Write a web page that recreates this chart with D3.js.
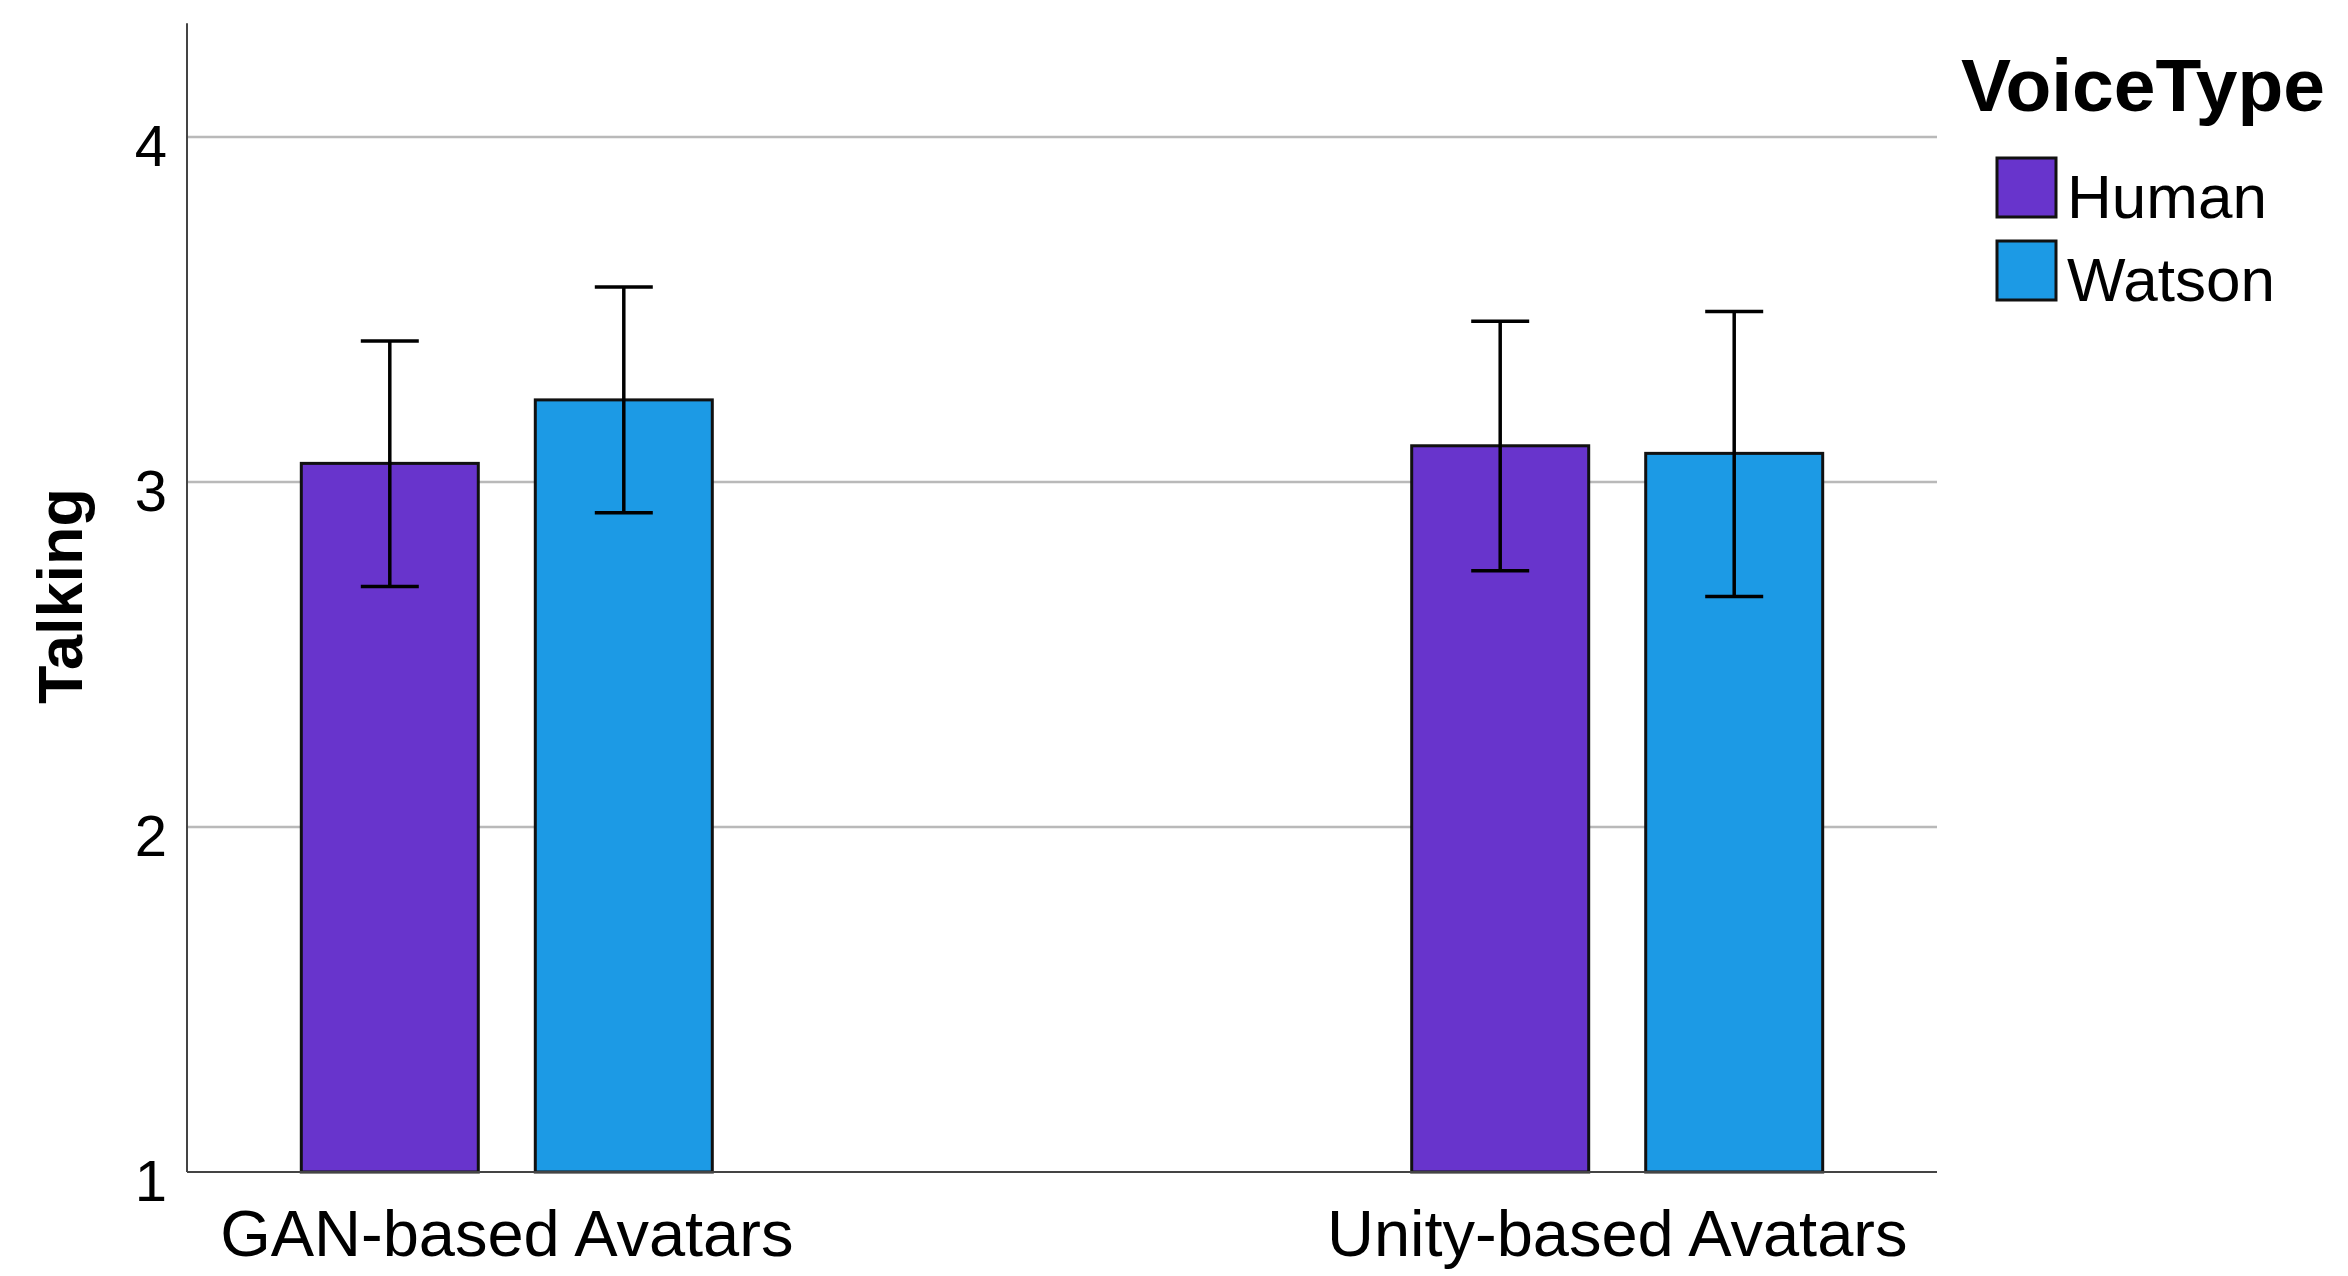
<!DOCTYPE html>
<html>
<head>
<meta charset="utf-8">
<script src="https://cdn.jsdelivr.net/npm/d3@7"></script>
<style>
  body { margin: 0; background: #fff; }
  text { font-family: "Liberation Sans", Arial, sans-serif; }
</style>
</head>
<body>
<div id="chart"></div>
<script>
// data
var categories = ["GAN-based Avatars", "Unity-based Avatars"];
var voiceTypes = ["Human", "Watson"];
var means = {
  Human: [3.054, 3.105],
  Watson: [3.238, 3.083]
};
var errLow = {
  Human: [2.697, 2.743],
  Watson: [2.911, 2.668]
};
var errHigh = {
  Human: [3.409, 3.466],
  Watson: [3.565, 3.494]
};
var yTicks = [1, 2, 3, 4];
var colors = ["#6834cc", "#1c9ae5"];

var width = 2348;
var height = 1276;

var svg = d3
  .select("#chart")
  .append("svg")
  .attr("width", width)
  .attr("height", height);

var left = 187;
var right = 1937;

var yScale = d3.scaleLinear().domain([1, 4]).range([1172, 137]);

var xScale = d3
  .scalePoint()
  .domain(categories)
  .range([left, right])
  .padding(0.288);

var x1 = d3
  .scaleBand()
  .domain(voiceTypes)
  .range([-205.5, 205.5])
  .paddingInner(0.2436);

var color = d3.scaleOrdinal().domain(voiceTypes).range(colors);

// gridlines
svg
  .append("g")
  .selectAll("line")
  .data(yTicks.slice(1))
  .enter()
  .append("line")
  .attr("x1", left)
  .attr("x2", right)
  .attr("y1", function(d) { return yScale(d); })
  .attr("y2", function(d) { return yScale(d); })
  .attr("stroke", "#b9b9b9")
  .attr("stroke-width", 2.5);

// y axis
var yAxis = d3
  .axisLeft(yScale)
  .tickValues(yTicks)
  .tickFormat(d3.format("d"))
  .tickSize(0)
  .tickPadding(20);
var yG = svg
  .append("g")
  .attr("transform", "translate(" + left + ",0)")
  .call(yAxis);
yG.select(".domain").remove();
yG.selectAll("text")
  .attr("dy", null)
  .attr("y", 28)
  .attr("font-size", 58)
  .attr("font-family", "Liberation Sans, Arial, sans-serif")
  .attr("fill", "#000");

svg
  .append("line")
  .attr("x1", left)
  .attr("x2", left)
  .attr("y1", yScale(4.33))
  .attr("y2", yScale(1))
  .attr("stroke", "#444")
  .attr("stroke-width", 2);

// bars
var groups = svg
  .append("g")
  .selectAll("g")
  .data(categories)
  .enter()
  .append("g")
  .attr("transform", function(d) { return "translate(" + xScale(d) + ",0)"; });

groups
  .selectAll("rect")
  .data(function(d, i) {
    return voiceTypes.map(function(v) { return { key: v, value: means[v][i] }; });
  })
  .enter()
  .append("rect")
  .attr("x", function(d) { return x1(d.key); })
  .attr("width", x1.bandwidth())
  .attr("y", function(d) { return yScale(d.value); })
  .attr("height", function(d) { return yScale(1) - yScale(d.value); })
  .attr("fill", function(d) { return color(d.key); })
  .attr("stroke", "#111")
  .attr("stroke-width", 3);

// x axis line
svg
  .append("line")
  .attr("x1", left)
  .attr("x2", right)
  .attr("y1", yScale(1))
  .attr("y2", yScale(1))
  .attr("stroke", "#444")
  .attr("stroke-width", 2);

// error bars
var errs = groups
  .selectAll("g.err")
  .data(function(d, i) {
    return voiceTypes.map(function(v) {
      return { key: v, lo: errLow[v][i], hi: errHigh[v][i] };
    });
  })
  .enter()
  .append("g")
  .attr("class", "err")
  .attr("stroke", "#000")
  .attr("stroke-width", 3.5);

var capW = 29;
function cx(d) { return x1(d.key) + x1.bandwidth() / 2; }

errs.append("line")
  .attr("x1", cx).attr("x2", cx)
  .attr("y1", function(d) { return yScale(d.hi); })
  .attr("y2", function(d) { return yScale(d.lo); });
errs.append("line")
  .attr("x1", function(d) { return cx(d) - capW; })
  .attr("x2", function(d) { return cx(d) + capW; })
  .attr("y1", function(d) { return yScale(d.hi); })
  .attr("y2", function(d) { return yScale(d.hi); });
errs.append("line")
  .attr("x1", function(d) { return cx(d) - capW; })
  .attr("x2", function(d) { return cx(d) + capW; })
  .attr("y1", function(d) { return yScale(d.lo); })
  .attr("y2", function(d) { return yScale(d.lo); });

// category labels
svg
  .append("g")
  .selectAll("text")
  .data(categories)
  .enter()
  .append("text")
  .attr("x", function(d) { return xScale(d); })
  .attr("y", 1256)
  .attr("text-anchor", "middle")
  .attr("font-size", 65)
  .text(function(d) { return d; });

// y title
svg
  .append("text")
  .attr("transform", "translate(82,596)rotate(-90)")
  .attr("text-anchor", "middle")
  .attr("font-size", 63)
  .attr("font-weight", "bold")
  .text("Talking");

// legend
var legend = svg.append("g");
legend
  .append("text")
  .attr("x", 1961)
  .attr("y", 111)
  .attr("font-size", 75)
  .attr("font-weight", "bold")
  .text("VoiceType");

var items = legend
  .selectAll("g.item")
  .data(voiceTypes)
  .enter()
  .append("g")
  .attr("class", "item")
  .attr("transform", function(d, i) { return "translate(1997," + (158 + i * 83) + ")"; });

items
  .append("rect")
  .attr("width", 59)
  .attr("height", 59)
  .attr("fill", function(d) { return color(d); })
  .attr("stroke", "#111")
  .attr("stroke-width", 3);

items
  .append("text")
  .attr("x", 70)
  .attr("y", 60)
  .attr("font-size", 62)
  .text(function(d) { return d; });
</script>
</body>
</html>
